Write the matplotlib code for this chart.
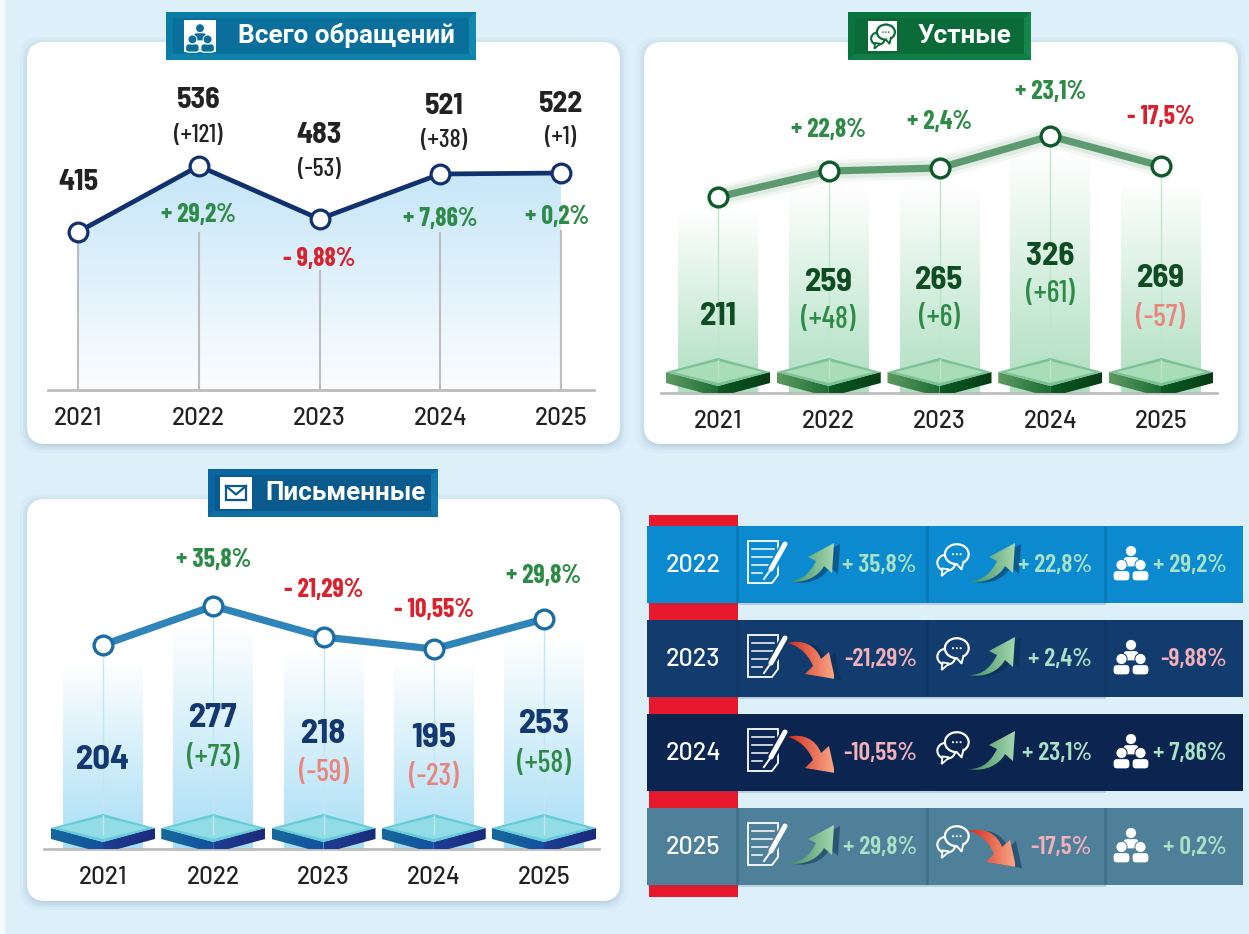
import numpy as np
import matplotlib
matplotlib.use("Agg")
import matplotlib.pyplot as plt
from matplotlib.colors import LinearSegmentedColormap as LSC
from matplotlib.patches import FancyBboxPatch, Rectangle, Polygon, Circle, Ellipse, PathPatch
from matplotlib.path import Path
from matplotlib.lines import Line2D

# ---------- data ----------
years = ["2021", "2022", "2023", "2024", "2025"]
total = [415, 536, 483, 521, 522]
total_delta = [None, 121, -53, 38, 1]
total_pct = [None, 29.2, -9.88, 7.86, 0.2]
oral = [211, 259, 265, 326, 269]
oral_delta = [None, 48, 6, 61, -57]
oral_pct = [None, 22.8, 2.4, 23.1, -17.5]
written = [204, 277, 218, 195, 253]
written_delta = [None, 73, -59, -23, 58]
written_pct = [None, 35.8, -21.29, -10.55, 29.8]
# the source draws its lines at heights that are not proportional to the values
total_level = [158, 224, 171, 216, 217]
oral_level = [196, 222, 225, 257, 227]
written_level = [204, 243, 212, 200, 230]
oral_bar = [183, 208, 208, 243, 213]
written_bar = [189, 224, 199, 189, 214]
titles = ["Всего обращений", "Устные", "Письменные"]
table_years = ["2022", "2023", "2024", "2025"]

# ---------- fonts ----------
NARROW = ["Barlow Condensed", "Roboto", "DejaVu Sans"]
SEMI = ["Barlow Semi Condensed", "Roboto", "DejaVu Sans"]
BAR = ["Barlow", "Roboto", "DejaVu Sans"]
WIDE = ["Roboto", "DejaVu Sans"]
GREEN = "#2E8B47"
RED = "#D8232F"
SALMON = "#E8857C"
INK = "#222222"

W, H = 1249, 934
fig = plt.figure(figsize=(W / 100, H / 100), dpi=100, facecolor="#DDF0FA")

deco = fig.add_axes([0, 0, 1, 1], zorder=0)
deco.set_xlim(0, W); deco.set_ylim(H, 0); deco.axis("off"); deco.set_autoscale_on(False)
top = fig.add_axes([0, 0, 1, 1], zorder=5, facecolor="none")
top.set_xlim(0, W); top.set_ylim(H, 0); top.axis("off"); top.set_autoscale_on(False)


def grad(ax, x0, x1, y0, y1, c0, c1, clip, horizontal=False, zorder=1, transform=None):
    cmap = LSC.from_list("g", [c0, c1])
    arr = np.linspace(0, 1, 128)
    arr = arr[None, :] if horizontal else arr[:, None]
    im = ax.imshow(arr, extent=(x0, x1, y0, y1), origin="lower", aspect="auto", cmap=cmap,
                   zorder=zorder, interpolation="bilinear")
    if isinstance(clip, Path):
        im.set_clip_path(clip, transform or ax.transData)
    else:
        im.set_clip_path(clip)
    return im


def card(x0, y0, x1, y1):
    for i, a in zip((8, 5, 3, 1), (0.05, 0.07, 0.09, 0.12)):
        deco.add_patch(FancyBboxPatch((x0 - i + 1, y0 - i + 3), x1 - x0 + 2 * i - 2, y1 - y0 + 2 * i - 2,
                                      boxstyle="round,pad=0,rounding_size=20", fc="#6E93AE", ec="none", alpha=a))
    deco.add_patch(FancyBboxPatch((x0, y0), x1 - x0, y1 - y0,
                                  boxstyle="round,pad=0,rounding_size=18", fc="white", ec="none"))


def banner(x0, y0, x1, y1, outer, inner, light):
    top.add_patch(Rectangle((x0, y0), x1 - x0, y1 - y0, fc=outer, ec="none"))
    top.add_patch(Polygon([(x1, y0), (x1, y1), (x1 - 7, y1 - 6), (x1 - 7, y0 + 6)], fc=light, ec="none"))
    top.add_patch(Polygon([(x0, y1), (x1, y1), (x1 - 7, y1 - 6), (x0 + 7, y1 - 6)], fc=light, ec="none", alpha=.5))
    top.add_patch(Rectangle((x0 + 7, y0 + 6), x1 - x0 - 14, y1 - y0 - 12, fc=inner, ec="none"))


def people(ax, cx, cy, s, fg, bg, z=6):
    for dx, dy, w in ((0, -11, 16), (-9.5, 3, 17), (9.5, 3, 17)):
        ax.add_patch(FancyBboxPatch((cx + (dx - w / 2) * s, cy + (dy + 5.5) * s), w * s, 10.5 * s,
                                    boxstyle=f"round,pad=0,rounding_size={4 * s}", fc=fg, ec=bg, lw=.9, zorder=z))
        ax.add_patch(Circle((cx + dx * s, cy + dy * s), 5.6 * s, fc=fg, ec=bg, lw=.7, zorder=z + .1))
        z += .2


def bubble(ax, cx, cy, s, fg, bg, z=6):
    ax.add_patch(Ellipse((cx - 7 * s, cy + 5 * s), 19 * s, 17 * s, fc=bg, ec=fg, lw=1.5, zorder=z))
    ax.add_patch(Polygon([(cx - 11 * s, cy + 11 * s), (cx - 12 * s, cy + 19 * s), (cx - 4 * s, cy + 12 * s)],
                         fc=bg, ec=fg, lw=1.3, zorder=z))
    ax.add_patch(Ellipse((cx + 4 * s, cy - 4 * s), 25 * s, 21 * s, fc=bg, ec=fg, lw=1.6, zorder=z + .1))
    ax.add_patch(Polygon([(cx + 4 * s, cy + 5.5 * s), (cx + 9 * s, cy + 12 * s), (cx + 11 * s, cy + 3 * s)],
                         fc=bg, ec="none", zorder=z + .2))
    ax.add_line(Line2D([cx + 4 * s, cx + 9 * s, cx + 11 * s], [cy + 6.5 * s, cy + 12 * s, cy + 4 * s],
                       color=fg, lw=1.4, zorder=z + .3))
    for d in (-4, 0, 4):
        ax.add_patch(Circle((cx + (4 + d) * s, cy - 4 * s), 1.1 * s, fc=fg, ec="none", zorder=z + .4))


def document(ax, x, y, bg, z=6):
    ax.add_patch(Polygon([(x, y), (x + 30, y), (x + 30, y + 34), (x + 24, y + 42), (x, y + 42)],
                         fc="none", ec="white", lw=1.3, zorder=z))
    for i, ln in enumerate((22, 22, 17, 10)):
        ax.add_line(Line2D([x + 4, x + 4 + ln], [y + 8 + i * 8] * 2, color="white", lw=1.1, zorder=z))
    ax.add_line(Line2D([x + 38, x + 20], [y + 2, y + 34], color=bg, lw=6.5, zorder=z + .1))
    ax.add_line(Line2D([x + 37, x + 23], [y + 3, y + 28], color="white", lw=3.6, solid_capstyle="round", zorder=z + .2))
    ax.add_line(Line2D([x + 23, x + 16], [y + 28, y + 38], color="white", lw=1.4, zorder=z + .2))


def envelope(ax, x, y, w, h, fg, z=6):
    ax.add_patch(Rectangle((x, y), w, h, fc="none", ec=fg, lw=1.6, zorder=z))
    ax.add_line(Line2D([x, x + w / 2, x + w], [y, y + h * .6, y], color=fg, lw=1.6, zorder=z))


UP = [(0, 38), (14, 38), (22, 30), (28, 18), (20, 14), (46, 0), (44, 30), (36, 23), (30, 34), (16, 41), (0, 38), (0, 38)]
UPC = [Path.MOVETO, Path.CURVE4, Path.CURVE4, Path.CURVE4, Path.LINETO, Path.LINETO, Path.LINETO, Path.LINETO,
       Path.CURVE4, Path.CURVE4, Path.CURVE4, Path.CLOSEPOLY]
DOWN = [(0, 4), (14, 0), (28, 6), (33, 20), (41, 13), (47, 40), (17, 35), (25, 27), (20, 15), (11, 7), (0, 4), (0, 4)]


def arrow(ax, x, y, up, z=6):
    pts = np.array(UP if up else DOWN, float) + (x, y)
    sh = Path(pts + (6, 1), UPC)
    ax.add_patch(PathPatch(sh, fc="#0A2A50", ec="none", alpha=.5, zorder=z - .1))
    p = Path(pts, UPC)
    if up:
        grad(ax, x, x + 46, y, y + 40, "#3F8F5E", "#A5D6AE", p, horizontal=True, zorder=z)
    else:
        grad(ax, x, x + 46, y, y + 40, "#D42E1E", "#F9A686", p, horizontal=True, zorder=z)


def signed(v, space=True):
    s = f"{abs(v):g}".replace(".", ",")
    if v >= 0:
        return f"+ {s}%"
    return f"- {s}%" if space else f"-{s}%"


def panel(x0, x1, base, top_y, px0, step):
    ax = fig.add_axes([x0 / W, 1 - base / H, (x1 - x0) / W, (base - top_y) / H], zorder=2, facecolor="none")
    ax.set_xlim((x0 - px0) / step, (x1 - px0) / step)
    ax.set_ylim(0, base - top_y)
    ax.set_autoscale_on(False)
    for s in ("top", "left", "right"):
        ax.spines[s].set_visible(False)
    ax.spines["bottom"].set_color("#BDBDBD"); ax.spines["bottom"].set_linewidth(2)
    ax.set_yticks([])
    ax.set_xticks(range(5), years, fontfamily=BAR, fontsize=17.5, fontweight="medium", color=INK)
    ax.tick_params(axis="x", length=0, pad=12)
    return ax


def put(ax, base, i, y, s, size, color, weight="bold", fam=NARROW):
    ax.text(i, base - y - 2, s, ha="center", va="center", fontsize=size, color=color, fontweight=weight,
            fontfamily=fam, zorder=8, clip_on=False)


# ---------- cards ----------
deco.add_patch(Rectangle((0, 0), 5, H, fc="#F4FAFD", ec="none"))
card(27, 42, 620, 444)
card(644, 42, 1238, 444)
card(27, 499, 620, 901)

# ---------- panel 1: total ----------
base1 = 390
a1 = panel(48, 594, base1, 42, 78, 120.75)
xs = np.arange(5)
poly = a1.fill_between(xs, 0, total_level, color="none", lw=0)
grad(a1, 0, 4, 230, 0, "#C4E5F8", "#FBFDFF", poly.get_paths()[0], zorder=1)
stem_top = [158, 158, 120, 158, 160]
a1.vlines(xs, 0, stem_top, color="#BDBDBD", lw=1.5, zorder=2)
a1.plot(xs, total_level, color="#10306E", lw=3.4, zorder=4, solid_capstyle="round")
a1.plot(xs, total_level, ls="none", marker="o", ms=13.5, mfc="white", mec="#10306E", mew=2.3, zorder=5, clip_on=False)
val_pos = [180, 98, 133, 104, 102]
dlt_pos = [None, 133, 167, 138, 135]
pct_pos = [None, 213, 257, 217, 215]
xoff = [0, 0, 0, .03, 0]
pct_off = [0, 0, 0, 0, -.03]
for i in range(5):
    put(a1, base1, i + xoff[i], val_pos[i], str(total[i]), 21.5, INK, "bold", SEMI)
    if total_delta[i] is not None:
        put(a1, base1, i + xoff[i], dlt_pos[i], f"({total_delta[i]:+d})", 18.5, INK, "medium")
        put(a1, base1, i + pct_off[i], pct_pos[i], signed(total_pct[i]), 18.5, GREEN if total_pct[i] > 0 else RED, "bold")


def bar_panel(x0, x1, base, top_y, px0, step, level, bars, vals, delta, pct, line, mec, bar_c, stem,
              face, edge_l, edge_r, valc, vsize, vpos, dpos, ppos, glow):
    ax = panel(x0, x1, base, top_y, px0, step)
    xs = np.arange(5)
    hw = 52 / step
    rects = ax.bar(xs, bars, width=80 / step, color="none", lw=0, zorder=1)
    for x, h, r in zip(xs, bars, rects):
        grad(ax, x - 1, x + 1, 0, h, bar_c, "#FFFFFF", r, zorder=1)
    ax.vlines(xs, 22, level, color=stem, lw=1, zorder=2)
    for x in xs:
        lf = Path([(x - hw, 21), (x - hw, 10), (x, -4), (x, 7), (x - hw, 21)], closed=True)
        rf = Path([(x + hw, 21), (x + hw, 10), (x, -4), (x, 7), (x + hw, 21)], closed=True)
        grad(ax, x - hw, x, -4, 21, edge_l[0], edge_l[1], lf, horizontal=True, zorder=3)
        grad(ax, x, x + hw, -4, 21, edge_r[0], edge_r[1], rf, horizontal=True, zorder=3)
        ax.add_patch(Polygon([(x - hw, 21), (x, 35), (x + hw, 21), (x, 7)], fc=face[1], ec="none", zorder=3.2))
        ax.add_patch(Polygon([(x - hw * .86, 21), (x, 32), (x + hw * .86, 21), (x, 10)], fc=face[0], ec="none", zorder=3.3))
        ax.vlines(x, 14, 34, color=stem, lw=1, zorder=3.4)
    if glow:
        for lw, a in ((16, .07), (11, .12)):
            ax.plot(xs, level, color=line, lw=lw, alpha=a, zorder=4)
    ax.plot(xs, level, color=line, lw=5.2, zorder=4.5, solid_capstyle="round")
    ax.plot(xs, level, ls="none", marker="o", ms=13.5, mfc="white", mec=mec, mew=2.4, zorder=5, clip_on=False)
    for i in range(5):
        put(ax, base, i, vpos[i], str(vals[i]), vsize, valc, "bold", SEMI)
        if delta[i] is not None:
            put(ax, base, i, dpos[i], f"({delta[i]:+d})", 21.5, GREEN if delta[i] > 0 else SALMON, "medium")
            put(ax, base, i, ppos[i], signed(pct[i]), 18.5, GREEN if pct[i] > 0 else RED, "bold")
    return ax


a2 = bar_panel(661, 1217, 393, 42, 718, 110.75, oral_level, oral_bar, oral, oral_delta, oral_pct,
               "#5E9A70", "#0F5A2A", "#AEDFC0", "#BFE6C8", ("#A8DDB8", "#7BC396"),
               ("#5F9A62", "#1C6E34"), ("#0B5A24", "#063C15"), "#0E4D22", 23.5,
               [314, 280, 278, 254, 276], [None, 318, 316, 292, 316], [None, 128, 120, 90, 115], True)
a3 = bar_panel(44, 599, 849, 499, 103, 110.25, written_level, written_bar, written, written_delta, written_pct,
               "#2F85B9", "#1B6DA3", "#A8DEF5", "#C2E6F4", ("#92DCE6", "#66CDD8"),
               ("#16699B", "#1250A0"), ("#1B3E94", "#1C2A7A"), "#12386F", 25,
               [758, 716, 732, 736, 722], [None, 756, 771, 775, 762], [None, 558, 588, 608, 574], False)

# ---------- banners ----------
TS = 18.8
banner(166, 12, 476, 60, "#0A7DA6", "#0A709B", "#1288AE")
top.add_patch(Rectangle((184, 20), 32, 32, fc="white", ec="none"))
people(top, 200, 37, .8, "#0A6E99", "white")
top.text(346, 36, titles[0], ha="center", va="center", color="white", fontsize=TS, fontweight="bold", fontfamily=WIDE)

banner(848, 12, 1031, 60, "#0A7440", "#0A6B38", "#14864A")
top.add_patch(Rectangle((868, 21), 29, 30, fc="white", ec="none"))
bubble(top, 883, 35, .72, "#0A6B38", "white")
top.text(964.5, 36, titles[1], ha="center", va="center", color="white", fontsize=TS, fontweight="bold", fontfamily=WIDE)

banner(208, 469, 438, 517, "#0A66A0", "#0B5A8E", "#1478AA")
top.add_patch(Rectangle((220, 477), 32, 32, fc="white", ec="none"))
envelope(top, 226, 486, 20, 14, "#0B5A8E")
top.text(346, 493, titles[2], ha="center", va="center", color="white", fontsize=TS, fontweight="bold", fontfamily=WIDE)

# ---------- summary table ----------
row_tops = [526, 620, 714, 808]
row_cols = ["#0B8AD0", "#123B6E", "#0B2550", "#4E8199"]
deco.add_patch(Rectangle((649, 515), 89, 382, fc="#E8192C", ec="none"))
for t, c, yr, wp, op, tp in zip(row_tops, row_cols, table_years, written_pct[1:], oral_pct[1:], total_pct[1:]):
    top.add_patch(Rectangle((648, t + 2), 458, 77, fc="#3A5A78", alpha=.22, ec="none", zorder=1))
    top.add_patch(Rectangle((647, t), 596, 77, fc=c, ec="none", zorder=2))
    for xe in (738, 928, 1106):
        top.add_patch(Rectangle((xe - 2, t), 3, 77, fc="#08213F", alpha=.16, ec="none", zorder=2.5))
    top.text(693, t + 40, yr, ha="center", va="center", color="white", fontsize=18, fontweight="medium", fontfamily=BAR, zorder=6)
    document(top, 748, t + 15, c)
    arrow(top, 788, t + (17 if wp > 0 else 19), wp > 0)
    bubble(top, 953, t + 32, .95, "white", c)
    arrow(top, 969, t + (17 if op > 0 else 19), op > 0)
    people(top, 1131, t + 36, 1.0, "white", c)
    for xr, v in ((917, wp), (1092, op), (1227, tp)):
        col = "#A9E2C6" if v > 0 else "#F5B1BA"
        top.text(xr, t + 39, signed(v, space=False), ha="right", va="center", color=col,
                 fontsize=18.5, fontweight="semibold", fontfamily=NARROW, zorder=6)

fig.savefig("out.png", dpi=100, facecolor=fig.get_facecolor())
